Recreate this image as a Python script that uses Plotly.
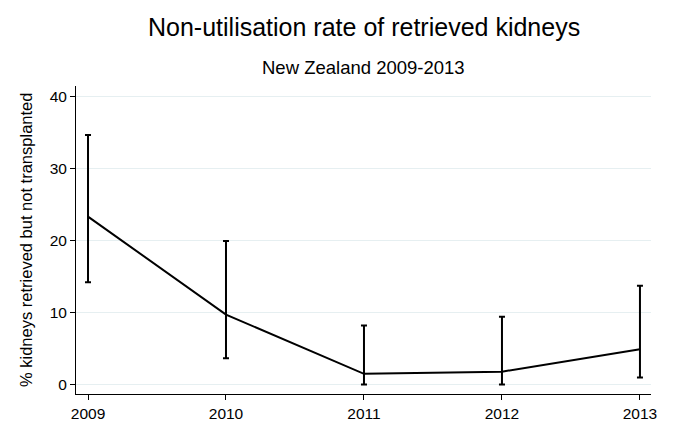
import plotly.graph_objects as go

years = [2009, 2010, 2011, 2012, 2013]
rate = [23.3, 9.7, 1.5, 1.8, 4.9]
upper = [34.6, 19.9, 8.2, 9.4, 13.7]
lower = [14.2, 3.65, 0.0, 0.0, 1.0]

err_plus = [u - r for u, r in zip(upper, rate)]
err_minus = [r - l for r, l in zip(rate, lower)]

fig = go.Figure()
fig.add_trace(go.Scatter(
    x=years, y=rate, mode="lines",
    line=dict(color="black", width=2),
    error_y=dict(type="data", symmetric=False, array=err_plus, arrayminus=err_minus,
                 color="black", thickness=2, width=3),
    showlegend=False, hoverinfo="skip",
))

font = "Liberation Sans, Arial, sans-serif"
fig.update_layout(
    width=674, height=421,
    margin=dict(l=76, r=23, t=86, b=27),
    paper_bgcolor="white", plot_bgcolor="white",
    font=dict(family=font, color="black", size=15.5),
    annotations=[
        dict(text="Non-utilisation rate of retrieved kidneys", x=0.5, xref="paper",
             y=1, yref="paper", yanchor="middle", yshift=59, showarrow=False,
             font=dict(size=25)),
        dict(text="New Zealand 2009-2013", x=0.5, xref="paper", y=1, yref="paper",
             yanchor="middle", yshift=19, showarrow=False, font=dict(size=18.5)),
        dict(text="% kidneys retrieved but not transplanted", textangle=-90,
             x=0, xref="paper", xanchor="center", xshift=-50,
             y=0.5, yref="paper", yanchor="middle", showarrow=False,
             font=dict(size=16.5)),
    ],
)
fig.update_xaxes(
    range=[2008.913, 2013.08], tickvals=years, ticktext=[str(y) for y in years],
    showline=True, linecolor="black", linewidth=1, ticks="outside", ticklen=5,
    tickcolor="black", showgrid=False, zeroline=False, tickfont=dict(size=15.5),
    automargin=False,
)
fig.update_yaxes(
    range=[-1.3, 41.4], tickvals=[0, 10, 20, 30, 40],
    showline=True, linecolor="black", linewidth=1, ticks="outside", ticklen=5,
    tickcolor="black", showgrid=True, gridcolor="#e6eff1", gridwidth=1, zeroline=False,
    tickfont=dict(size=15.5), automargin=False,
)
fig.write_html("out.html", config={"displayModeBar": False},
               post_script="document.body.style.margin='0';")
